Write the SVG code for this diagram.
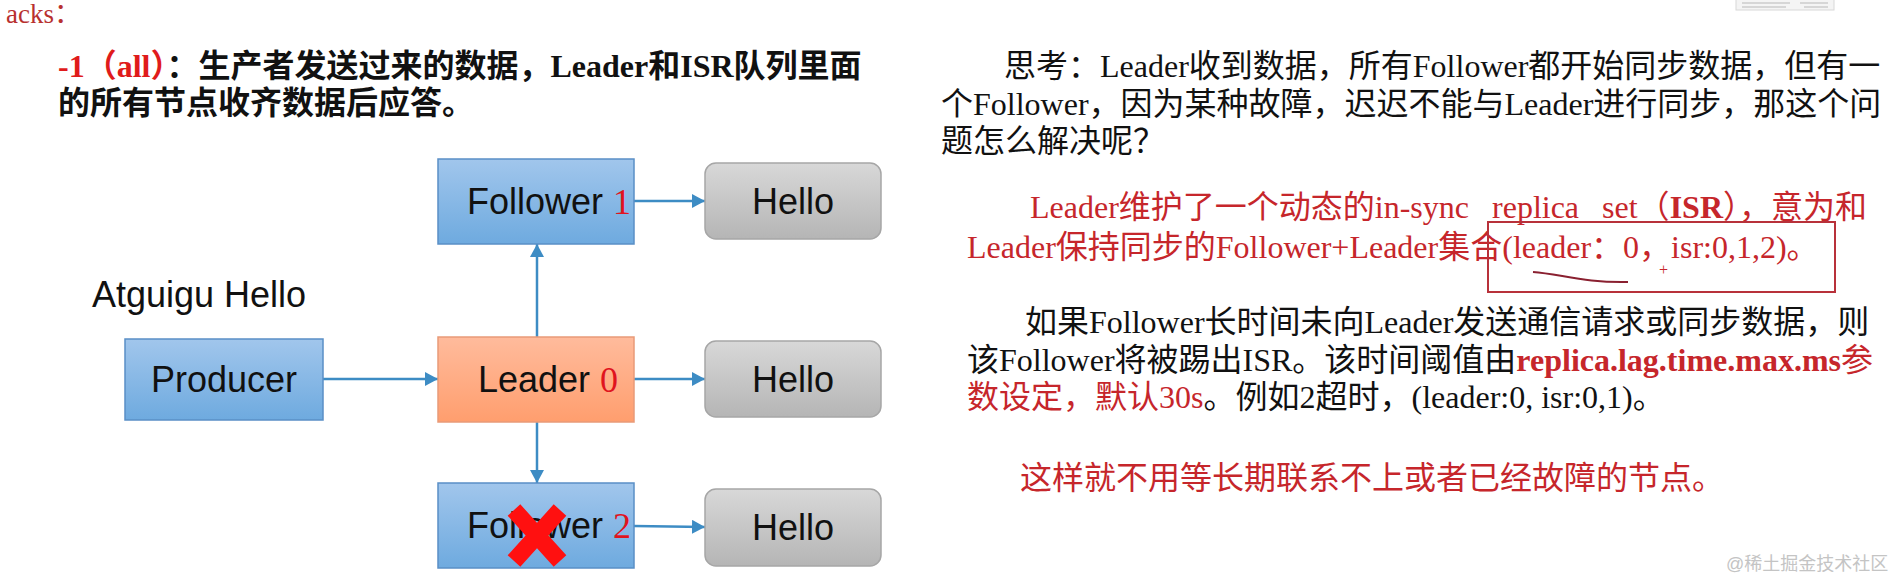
<svg xmlns="http://www.w3.org/2000/svg" width="1893" height="579" viewBox="0 0 1893 579">
<defs>
<linearGradient id="gBlue" x1="0" y1="0" x2="0" y2="1"><stop offset="0" stop-color="#a1c6ec"/><stop offset="1" stop-color="#6eaadf"/></linearGradient>
<linearGradient id="gOrange" x1="0" y1="0" x2="0" y2="1"><stop offset="0" stop-color="#ffbb9c"/><stop offset="1" stop-color="#ff9e6e"/></linearGradient>
<linearGradient id="gGray" x1="0" y1="0" x2="0" y2="1"><stop offset="0" stop-color="#d8d8d8"/><stop offset="1" stop-color="#b5b5b5"/></linearGradient>
<marker id="arr" markerUnits="userSpaceOnUse" markerWidth="14" markerHeight="14" refX="13" refY="7" orient="auto"><path d="M0,0 L13,7 L0,14 z" fill="#3d8cc4"/></marker>
</defs>
<style>
.blue{fill:url(#gBlue);stroke:#5a8fc6;stroke-width:1.5}
.orange{fill:url(#gOrange);stroke:#e99a78;stroke-width:1.5}
.gray{fill:url(#gGray);stroke:#a6a6a6;stroke-width:1.5}
.lbl{font-family:"Liberation Sans",Arial,sans-serif;font-size:36px;fill:#111}
.num{font-family:"Liberation Serif","Times New Roman",serif;font-size:36px;fill:#e0141e}
.conn path{fill:none;stroke:#3d8cc4;stroke-width:2.5;marker-end:url(#arr)}
.tx{font-family:"Liberation Serif","Noto Sans CJK SC",serif;font-size:32px;fill:#111}
.bold{font-weight:bold}
.red{fill:#c6262b}
</style>
<rect width="1893" height="579" fill="#ffffff"/>
<g id="thumb"><rect x="1736" y="-2" width="98" height="12" fill="#f4f4f4" stroke="#d8d8d8"/><path d="M1742,3 H1790 M1742,7 H1786 M1800,3 H1828 M1804,7 H1828" stroke="#b8b8b8" stroke-width="1.2"/></g>

<g id="text-left">
<text x="6" y="23" class="tx" style="font-size:27px;fill:#b8312f">acks：</text>
<text x="58" y="77" class="tx bold"><tspan fill="#e01b1b">-1（all）</tspan>：生产者发送过来的数据，Leader和ISR队列里面</text>
<text x="58" y="114" class="tx bold">的所有节点收齐数据后应答。</text>
<text x="92" y="307" class="lbl">Atguigu Hello</text>
</g>

<g id="conn" class="conn">
<path d="M323,379 H438"/>
<path d="M537,337 V244"/>
<path d="M537,422 V483"/>
<path d="M634,201 H705"/>
<path d="M634,379 H705"/>
<path d="M634,526 L705,527"/>
</g>

<g id="producer"><rect x="125" y="339" width="198" height="81" class="blue"/><text x="224" y="392" text-anchor="middle" class="lbl">Producer</text></g>
<g id="leader"><rect x="438" y="337" width="196" height="85" class="orange"/><text x="478" y="392" class="lbl">Leader <tspan class="num">0</tspan></text></g>
<g id="follower1"><rect x="438" y="159" width="196" height="85" class="blue"/><text x="467" y="214" class="lbl">Follower <tspan class="num">1</tspan></text></g>
<g id="follower2"><rect x="438" y="483" width="196" height="85" class="blue"/><text x="467" y="538" class="lbl">Follower <tspan class="num">2</tspan></text>
<path d="M514,510 L560,561 M560,510 L514,561" stroke="#ff1010" stroke-width="17" fill="none"/></g>
<g id="hello1"><rect x="705" y="163" width="176" height="76" rx="11" class="gray"/><text x="793" y="214" text-anchor="middle" class="lbl">Hello</text></g>
<g id="hello2"><rect x="705" y="341" width="176" height="76" rx="11" class="gray"/><text x="793" y="392" text-anchor="middle" class="lbl">Hello</text></g>
<g id="hello3"><rect x="705" y="489" width="176" height="77" rx="11" class="gray"/><text x="793" y="540" text-anchor="middle" class="lbl">Hello</text></g>

<g id="text-right">
<text x="1004" y="77" class="tx">思考：Leader收到数据，所有Follower都开始同步数据，但有一</text>
<text x="941" y="115" class="tx">个Follower，因为某种故障，迟迟不能与Leader进行同步，那这个问</text>
<text x="941" y="152" class="tx">题怎么解决呢？</text>
<text x="1030" y="218" class="tx red" style="word-spacing:15px">Leader维护了一个动态的in-sync replica set（<tspan class="bold">ISR</tspan>），意为和</text>
<text x="967" y="258" class="tx red">Leader保持同步的Follower+Leader集合(leader：0，isr:0,1,2)。</text>
<rect x="1488" y="222" width="347" height="70" fill="none" stroke="#b8313a" stroke-width="2"/>
<path d="M1533,272 C1560,274 1585,283 1628,282" fill="none" stroke="#8a2030" stroke-width="2"/>
<text x="1659" y="275" class="tx red" style="font-size:16px">+</text>
<text x="1025" y="333" class="tx">如果Follower长时间未向Leader发送通信请求或同步数据，则</text>
<text x="967" y="371" class="tx">该Follower将被踢出ISR。该时间阈值由<tspan class="red bold">replica.lag.time.max.ms</tspan><tspan class="red">参</tspan></text>
<text x="967" y="408" class="tx"><tspan class="red">数设定，默认30s</tspan>。例如2超时，(leader:0, isr:0,1)。</text>
<text x="1020" y="489" class="tx red">这样就不用等长期联系不上或者已经故障的节点。</text>
<text x="1726" y="570" style="font-family:'Liberation Sans','Noto Sans CJK SC',sans-serif;font-size:18px;fill:#c4c4c4">@稀土掘金技术社区</text>
</g>
</svg>
